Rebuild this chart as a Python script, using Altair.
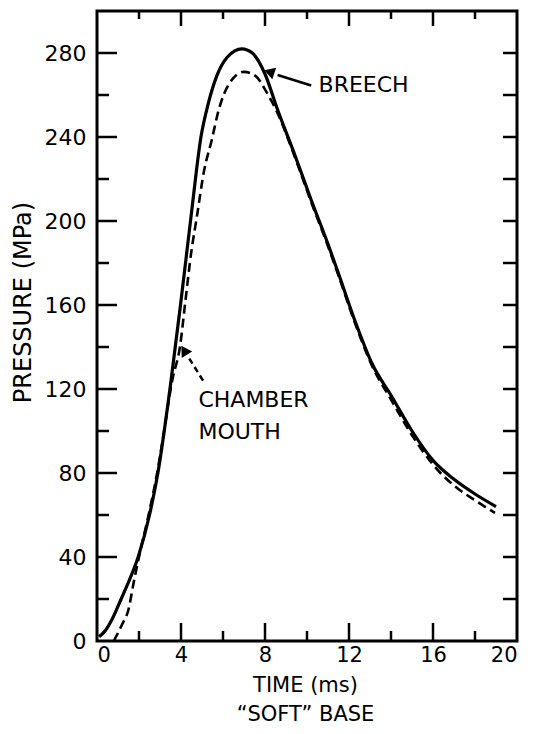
import altair as alt
import pandas as pd

# ---- data ----
breech_t = [0.1, 0.4, 0.7, 1.15, 1.5, 1.96, 2.5, 2.9, 3.5, 4.0, 4.5, 4.95, 5.3, 5.7, 6.2, 6.9, 7.4, 7.7,
            8.0, 8.6, 9.4, 10.2, 11.0, 11.5, 12.3, 13.1, 14.0, 15.0, 16.0, 17.0, 18.0, 19.0]
breech_p = [2, 5, 10, 20, 28, 40, 60, 80, 122, 162, 204, 240, 256, 269, 278, 282, 280, 276,
            270, 253, 232, 210, 189, 175, 152, 132, 117, 100, 86, 77, 70, 64]

mouth_t = [0.8, 1.2, 1.5, 1.75, 2.0, 2.5, 2.9, 3.1, 3.6, 3.95, 4.2, 4.5, 4.74, 5.1, 5.45, 5.8, 6.27, 7.0,
           7.56, 8.04, 8.66, 9.4, 10.2, 11.0, 11.5, 12.3, 13.1, 14.0, 15.0, 16.0, 17.0, 18.0, 18.95]
mouth_p = [0, 8, 15, 28, 40, 62, 82, 94, 125, 140, 161, 186, 201, 224, 238, 253, 265, 271,
           269, 262, 250, 231, 209, 188, 174, 151, 131, 115, 98, 84, 74, 67, 61]

x_labels = [0, 4, 8, 12, 16, 20]
y_labels = [0, 40, 80, 120, 160, 200, 240, 280]
x_major = [4, 8, 12, 16]
x_minor = [2, 6, 10, 14, 18]
y_major = [40, 80, 120, 160, 200, 240, 280]
y_minor = [20, 60, 100, 140, 180, 220, 260]
y_right = [20, 40, 60, 80, 100, 120, 140, 160, 180, 200, 220, 240, 260, 280]

breech_label = ["BREECH"]
breech_label_pos = [(10.55, 265)]
breech_arrow = [(10.2, 264.5, 8.6, 269.5)]
breech_head = [(8.2, 271, 18)]

mouth_labels = ["CHAMBER", "MOUTH"]
mouth_label_pos = [(4.83, 115), (4.83, 99.5)]
mouth_arrow = [(5.05, 124, 4.3, 136)]
mouth_head = [(4.15, 138.5, 328)]

FONT = "DejaVu Sans"
W, H = 420, 630

xs = alt.Scale(domain=[0, 20], nice=False, zero=False)
ys = alt.Scale(domain=[0, 300], nice=False, zero=False)

df_b = pd.DataFrame({"t": breech_t, "p": breech_p})
df_m = pd.DataFrame({"t": mouth_t, "p": mouth_p})

base_x = alt.X("t:Q", scale=xs,
               axis=alt.Axis(values=x_labels, ticks=False, tickSize=0, domain=False, grid=False,
                             labelFontSize=21, labelFont=FONT, labelColor="black", labelPadding=3,
                             format="d",
                             title=["TIME (ms)", "\u201cSOFT\u201d BASE"], titleFont=FONT,
                             titleFontSize=21, titleFontWeight="normal", titleColor="black",
                             titleBaseline="alphabetic", titleLineHeight=29, titleY=50,
                             titleX=W / 2 - 2, titleAlign="center"))
base_y = alt.Y("p:Q", scale=ys,
               axis=alt.Axis(values=y_labels, ticks=False, tickSize=0, domain=False, grid=False,
                             labelFontSize=22, labelFont=FONT, labelColor="black", labelPadding=11,
                             title="PRESSURE (MPa)", titleFont=FONT, titleFontSize=24,
                             titleFontWeight="normal", titleColor="black", titleAngle=270,
                             titleX=-74, titleY=291, titleAlign="center", titleBaseline="middle"))

breech = alt.Chart(df_b).mark_line(color="black", strokeWidth=3.2, interpolate="monotone").encode(
    x=base_x, y=base_y)
mouth = alt.Chart(df_m).mark_line(color="black", strokeWidth=2.6, strokeDash=[9, 5],
                                  interpolate="monotone").encode(
    x=alt.X("t:Q", scale=xs), y=alt.Y("p:Q", scale=ys))

def vticks(vals, y0, y1):
    return alt.Chart(pd.DataFrame({"v": vals})).mark_rule(color="black", strokeWidth=2.5).encode(
        x=alt.X("v:Q", scale=xs), y=alt.value(y0), y2=alt.value(y1))

def hticks(vals, x0, x1):
    return alt.Chart(pd.DataFrame({"v": vals})).mark_rule(color="black", strokeWidth=2.5).encode(
        y=alt.Y("v:Q", scale=ys), x=alt.value(x0), x2=alt.value(x1))

ticks = [
    vticks(x_major, H, H - 18), vticks(x_minor, H, H - 10),
    vticks(x_major, 0, 15), vticks(x_minor, 0, 8),
    hticks(y_major, 0, 20), hticks(y_minor, 0, 12),
    hticks(y_right, W, W - 14),
]

def texts(labels, pos):
    d = pd.DataFrame({"label": labels, "t": [p[0] for p in pos], "p": [p[1] for p in pos]})
    return alt.Chart(d).mark_text(align="left", baseline="middle", fontSize=22, font=FONT,
                                  color="black").encode(
        x=alt.X("t:Q", scale=xs), y=alt.Y("p:Q", scale=ys), text="label:N")

def shaft(seg, dash=None):
    d = pd.DataFrame({"t": [s[0] for s in seg], "p": [s[1] for s in seg],
                      "t2": [s[2] for s in seg], "p2": [s[3] for s in seg]})
    kw = dict(color="black", strokeWidth=2.5)
    if dash:
        kw["strokeDash"] = dash
    return alt.Chart(d).mark_rule(**kw).encode(
        x=alt.X("t:Q", scale=xs), y=alt.Y("p:Q", scale=ys), x2="t2:Q", y2="p2:Q")

def head(h, shape):
    d = pd.DataFrame({"t": [v[0] for v in h], "p": [v[1] for v in h]})
    return alt.Chart(d).mark_point(shape=shape, filled=True, color="black", opacity=1,
                                   size=150, angle=h[0][2]).encode(
        x=alt.X("t:Q", scale=xs), y=alt.Y("p:Q", scale=ys))

layers = [breech, mouth] + ticks + [
    texts(breech_label, breech_label_pos), shaft(breech_arrow), head(breech_head, "triangle-left"),
    texts(mouth_labels, mouth_label_pos), shaft(mouth_arrow, [6, 4]), head(mouth_head, "triangle-up"),
]

chart = alt.layer(*layers).properties(
    width=W, height=H,
    autosize=alt.AutoSizeParams(type="none"),
    padding={"left": 89, "top": 3, "right": 11, "bottom": 85},
    background="white",
).configure_view(stroke="black", strokeWidth=3)

chart.save("out.html", embed_options={"renderer": "svg", "actions": False})
